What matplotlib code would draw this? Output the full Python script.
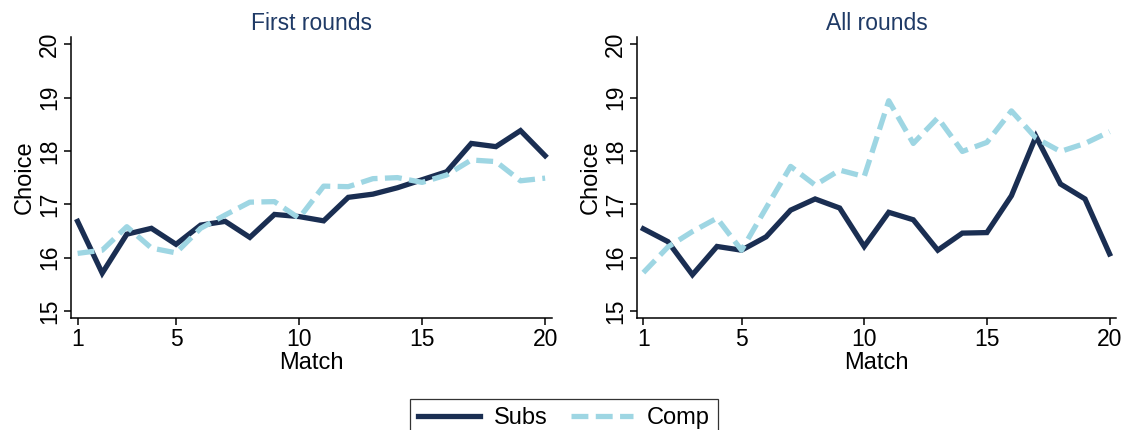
import numpy as np
import matplotlib
matplotlib.use("Agg")
import matplotlib.pyplot as plt

plt.rcParams['font.family'] = ['Liberation Sans', 'DejaVu Sans']

match = np.arange(1, 21)

# average choice per match, first rounds only
subs_first = [16.68, 15.71, 16.44, 16.55, 16.25, 16.61, 16.68, 16.38, 16.81, 16.77,
              16.69, 17.13, 17.19, 17.31, 17.46, 17.61, 18.14, 18.08, 18.38, 17.91]
comp_first = [16.08, 16.14, 16.58, 16.18, 16.09, 16.55, 16.80, 17.04, 17.05, 16.74,
              17.34, 17.33, 17.48, 17.50, 17.41, 17.55, 17.83, 17.80, 17.44, 17.49]

# average choice per match, all rounds
subs_all = [16.54, 16.30, 15.68, 16.21, 16.14, 16.39, 16.89, 17.10, 16.93, 16.21,
            16.85, 16.71, 16.14, 16.46, 16.47, 17.16, 18.27, 17.38, 17.10, 16.07]
comp_all = [15.72, 16.20, 16.49, 16.74, 16.14, 16.93, 17.71, 17.36, 17.64, 17.52,
            18.94, 18.14, 18.62, 17.99, 18.16, 18.75, 18.24, 17.99, 18.14, 18.36]

titles = ["First rounds", "All rounds"]
xticks = [1, 5, 10, 15, 20]
yticks = [15, 16, 17, 18, 19, 20]

navy = "#1a2e52"
lightblue = "#9ed6e3"
title_col = "#1f3a66"

fig = plt.figure(figsize=(11.3, 4.3), dpi=100)
ax1 = fig.add_axes([0.0628, 0.2605, 0.4257, 0.6542])
ax2 = fig.add_axes([0.5635, 0.2605, 0.4245, 0.6542])

panels = [(ax1, subs_first, comp_first), (ax2, subs_all, comp_all)]
for (ax, subs, comp), title in zip(panels, titles):
    l1, = ax.plot(match, subs, color=navy, lw=3.8, solid_joinstyle='miter', label="Subs")
    l2, = ax.plot(match, comp, color=lightblue, lw=3.8, dashes=(3.2, 1.4), label="Comp")
    ax.set_xlim(0.73, 20.28)
    ax.set_ylim(14.87, 20.14)
    ax.set_xticks(xticks)
    ax.set_yticks(yticks)
    ax.tick_params(axis='both', direction='out', length=5, width=1.1, labelsize=16.5, pad=2)
    for lab in ax.get_yticklabels():
        lab.set_rotation(90)
        lab.set_va('center')
    for side in ['top', 'right']:
        ax.spines[side].set_visible(False)
    for side in ['left', 'bottom']:
        ax.spines[side].set_linewidth(1.1)
    ax.set_xlabel("Match", fontsize=17, labelpad=1)
    ax.set_ylabel("Choice", fontsize=17, labelpad=2)
    ax.set_title(title, fontsize=16.5, color=title_col, pad=5)

leg = fig.legend([l1, l2], ["Subs", "Comp"], loc='lower center', bbox_to_anchor=(0.499, -0.045),
                 ncol=2, fontsize=17, frameon=True, fancybox=False, handlelength=2.6,
                 columnspacing=1.0, handletextpad=0.6, borderpad=0.35)
leg.get_frame().set_edgecolor('black')
leg.get_frame().set_linewidth(0.9)

fig.savefig("out.png", dpi=100)
